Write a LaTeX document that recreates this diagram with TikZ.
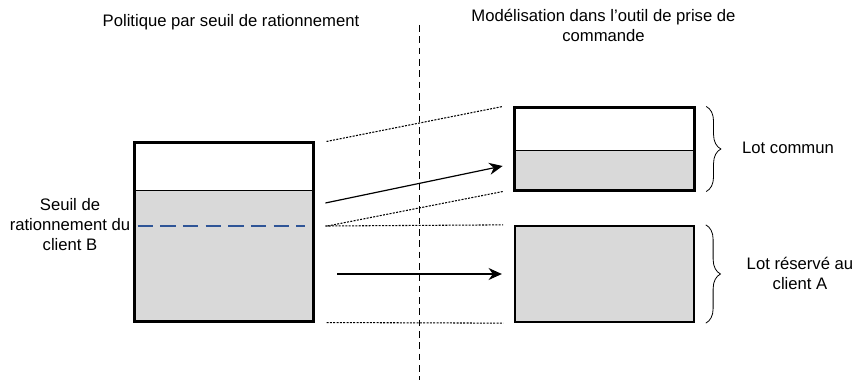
\documentclass[tikz,border=0pt]{standalone}
\usepackage{fontspec}
\setmainfont{Liberation Sans}
\usetikzlibrary{arrows.meta, positioning, fit, decorations.pathreplacing}
\definecolor{lotgris}{HTML}{D9D9D9}
\definecolor{seuilbleu}{RGB}{47,85,151}

\begin{document}
\begin{tikzpicture}[
	x=0.75pt, y=-0.75pt,
	part/.style={rectangle, draw, line width=0.6pt, inner sep=0pt, minimum width=133.5pt},
	frame/.style={rectangle, draw, line width=1.7pt, inner sep=0pt},
	label/.style={align=center, font=\fontsize{12.5}{15}\selectfont},
	arrow/.style={-{Stealth[length=10pt, width=9pt]}, line width=0.9pt},
	guide/.style={line width=0.8pt, dash pattern=on 1.5pt off 1pt},
	seuil/.style={seuilbleu, line width=1.7pt, dash pattern=on 11.5pt off 5.5pt},
	accolade/.style={decorate, decoration={brace, amplitude=11pt}, line width=0.6pt}
]
	\useasboundingbox (0,0) rectangle (856,381);

	% Politique par seuil
	\node[part, minimum height=35.25pt, fill=white] (lcom) at (224,166.5) {};
	\node[part, minimum height=98.25pt, fill=lotgris] (lres) at (224,255.5) {};
	\node[frame, fit=(lcom)(lres)] (lbox) {};
	\draw[seuil] ([shift={(3,-29.5)}]lres.west) -- ([shift={(-8,-29.5)}]lres.east);

	% Modelisation dans l'outil
	\node[part, minimum width=134.25pt, minimum height=31.5pt, fill=white] (rcom) at (604.5,129) {};
	\node[part, minimum width=134.25pt, minimum height=30pt, fill=lotgris] (rgris) at (604.5,170) {};
	\node[frame, fit=(rcom)(rgris)] (rtop) {};
	\node[frame, minimum width=134.25pt, minimum height=72pt, fill=lotgris] (rres) at (604.5,274) {};

	% Separation
	\coordinate (septop) at (419,25);
	\coordinate (sepbot) at (419,380);
	\draw[line width=0.75pt, dash pattern=on 5pt off 3.5pt] (septop) -- (sepbot);

	% Correspondances
	\draw[guide] ([xshift=9pt]lbox.north east) -- ([xshift=-8pt]rtop.north west);
	\draw[guide] ([shift={(14,-29.5)}]lres.east) -- ([xshift=-8pt]rtop.south west);
	\draw[guide] ([shift={(12,-29.5)}]lres.east) -- ([xshift=-8pt]rres.north west);
	\draw[guide] ([xshift=9pt]lbox.south east) -- ([xshift=-8pt]rres.south west);
	\draw[arrow] ([shift={(12,-52.5)}]lres.east) -- ([shift={(-12,-4)}]rgris.west);
	\draw[arrow] ([shift={(24,18.5)}]lres.east) -- ([xshift=-9pt]rres.west);

	% Accolades
	\draw[accolade] ([xshift=8pt]rtop.north east) -- ([xshift=8pt]rtop.south east);
	\draw[accolade] ([xshift=8pt]rres.north east) -- ([xshift=8pt]rres.south east);

	% Labels
	\node[label] (tgauche) at (231,22) {Politique par seuil de rationnement};
	\node[label] (tdroite) at (603.5,25) {Modélisation dans l'outil de prise de\\commande};
	\node[label] (tcom) at (788,148) {Lot commun};
	\node[label] (tres) at (800,273.5) {Lot réservé au\\client A};
	\node[label] (tseuil) at (70,225) {Seuil de\\rationnement du\\client B};
\end{tikzpicture}
\end{document}
